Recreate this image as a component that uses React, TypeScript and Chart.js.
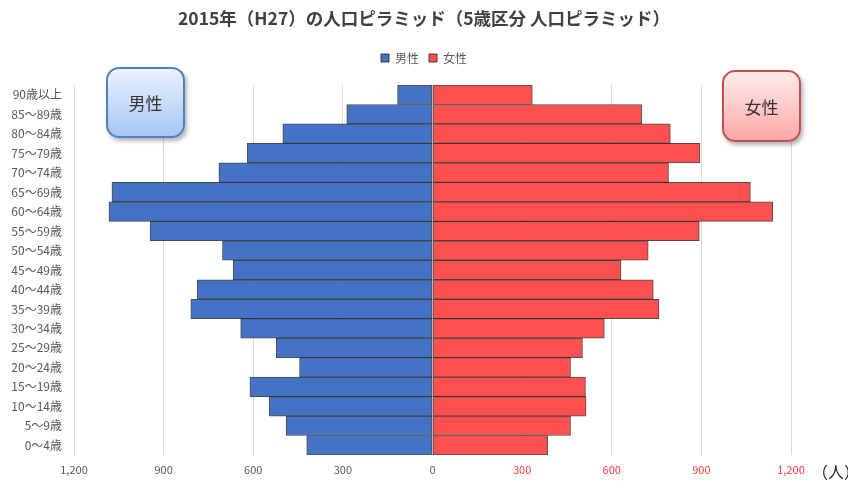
import { useEffect, useRef } from "react";
import { Chart, registerables } from "chart.js";

Chart.register(...registerables);

const ageGroups = [
  "90歳以上", "85～89歳", "80～84歳", "75～79歳", "70～74歳", "65～69歳", "60～64歳",
  "55～59歳", "50～54歳", "45～49歳", "40～44歳", "35～39歳", "30～34歳", "25～29歳",
  "20～24歳", "15～19歳", "10～14歳", "5～9歳", "0～4歳",
];
const male = [117, 287, 501, 620, 715, 1073, 1083, 945, 703, 667, 788, 809, 642, 523, 445, 611, 547, 490, 421];
const female = [334, 700, 796, 895, 790, 1064, 1139, 893, 722, 631, 739, 758, 575, 502, 462, 512, 514, 462, 386];
const seriesNames = ["男性", "女性"];
const xMin = -1200;
const xMax = 1200;
const xStep = 300;
const titleText = "2015年（H27）の人口ピラミッド（5歳区分 人口ピラミッド）";
const unitText = "（人）";

const FONT = "'Noto Sans CJK JP', 'Noto Sans', sans-serif";

const legendSpacer = {
  id: "legendSpacer",
  beforeInit(chart: any) {
    const legend = chart.legend;
    if (!legend) return;
    const orig = legend.fit;
    legend.fit = function () {
      orig.call(this);
      this.height += 11;
    };
  },
};

export default function App() {
  const ref = useRef<HTMLCanvasElement | null>(null);

  useEffect(() => {
    if (!ref.current) return;
    const chart = new Chart(ref.current, {
      type: "bar",
      data: {
        labels: ageGroups,
        datasets: [
          {
            label: seriesNames[0],
            data: male.map((v) => -v),
            backgroundColor: "#4472C4",
            borderColor: "rgba(30,30,30,0.8)",
            borderWidth: 1,
            borderSkipped: false,
            barPercentage: 1,
            categoryPercentage: 1,
          },
          {
            label: seriesNames[1],
            data: female,
            backgroundColor: "#FF5050",
            borderColor: "rgba(30,30,30,0.8)",
            borderWidth: 1,
            borderSkipped: false,
            barPercentage: 1,
            categoryPercentage: 1,
          },
        ],
      },
      options: {
        indexAxis: "y",
        responsive: false,
        animation: false,
        layout: { padding: { left: 0, right: 0, top: 0, bottom: 5 } },
        plugins: {
          title: {
            display: true,
            text: titleText,
            color: "#404040",
            font: { family: FONT, size: 17.5, weight: "bold" },
            padding: { top: 8, bottom: 13 },
          },
          legend: {
            display: true,
            position: "top",
            labels: {
              boxWidth: 8,
              boxHeight: 8,
              color: "#595959",
              font: { family: FONT, size: 12 },
              padding: 10,
            },
          },
          tooltip: { enabled: false },
        },
        scales: {
          x: {
            stacked: true,
            min: xMin,
            max: xMax,
            grid: { color: "#D9D9D9", drawTicks: false },
            border: { display: false },
            ticks: {
              stepSize: xStep,
              maxRotation: 0,
              padding: 8,
              font: { family: FONT, size: 11 },
              color: (ctx: any) => (ctx.tick && ctx.tick.value > 0 ? "#FF3B3B" : "#595959"),
              callback: (v: any) => Math.abs(Number(v)).toLocaleString("en-US"),
            },
            afterFit(scale: any) {
              scale.height = 21;
            },
          },
          y: {
            stacked: true,
            grid: { display: false, drawTicks: false },
            border: { display: false },
            ticks: {
              autoSkip: false,
              padding: 12,
              color: "#595959",
              font: { family: FONT, size: 12 },
            },
            afterFit(scale: any) {
              scale.width = 74;
            },
          },
          yRight: {
            type: "category",
            position: "right",
            display: true,
            grid: { display: false, drawTicks: false },
            border: { display: false },
            ticks: { display: false },
            afterFit(scale: any) {
              scale.width = 57;
            },
          },
        },
      },
      plugins: [legendSpacer],
    });
    return () => chart.destroy();
  }, []);

  const boxBase: any = {
    position: "absolute",
    display: "flex",
    alignItems: "center",
    justifyContent: "center",
    borderRadius: 13,
    boxSizing: "border-box",
    fontFamily: FONT,
    fontSize: 17,
    color: "#333333",
    boxShadow: "2px 3px 4px rgba(0,0,0,0.3)",
  };

  return (
    <div style={{ position: "absolute", left: 0, top: 0, width: 848, height: 481, background: "#ffffff", overflow: "hidden" }}>
      <canvas ref={ref} width={848} height={481} style={{ display: "block", width: 848, height: 481 }} />
      <div
        style={{
          ...boxBase,
          left: 106,
          top: 67,
          width: 79,
          height: 71,
          border: "2px solid #4F81BD",
          background: "linear-gradient(to bottom, #EAF1FF 0%, #C9DCFB 50%, #A6C4F5 100%)",
        }}
      >
        {seriesNames[0]}
      </div>
      <div
        style={{
          ...boxBase,
          left: 722,
          top: 70,
          width: 79,
          height: 72,
          border: "2px solid #C0504D",
          background: "linear-gradient(to bottom, #FFEAEA 0%, #FFCACA 50%, #FFA6A6 100%)",
        }}
      >
        {seriesNames[1]}
      </div>
      <div
        style={{
          position: "absolute",
          left: 812,
          top: 459,
          fontFamily: FONT,
          fontSize: 16,
          color: "#262626",
          whiteSpace: "nowrap",
        }}
      >
        {unitText}
      </div>
    </div>
  );
}
